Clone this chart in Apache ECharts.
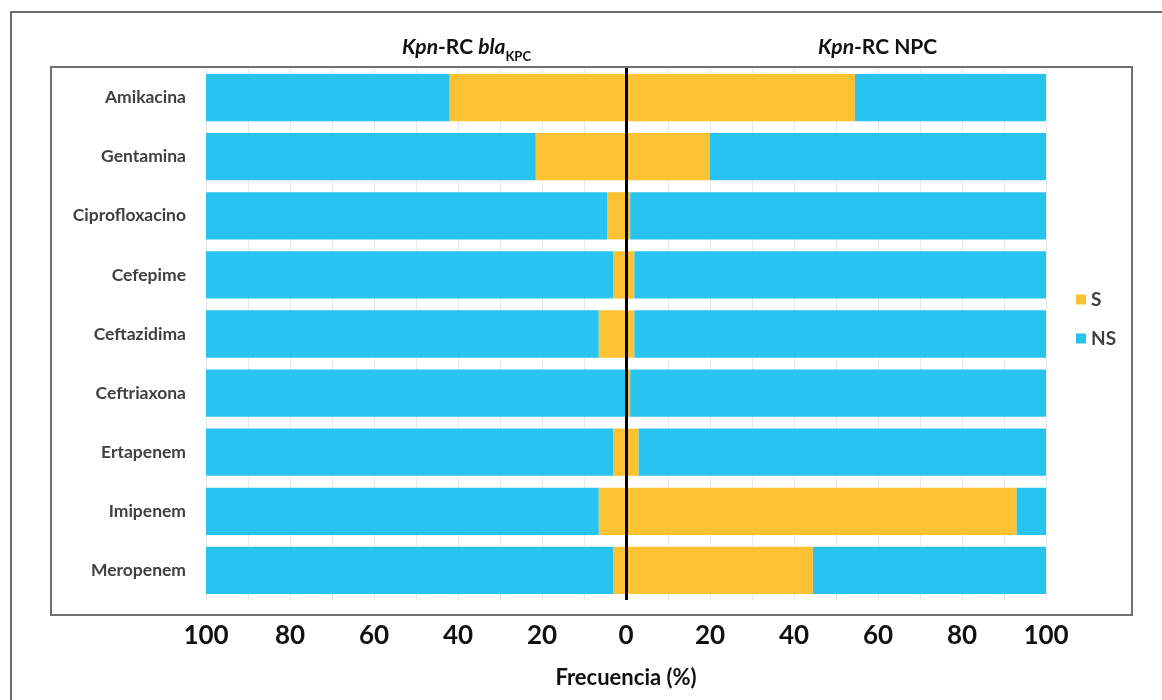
<!DOCTYPE html>
<html>
<head>
<meta charset="utf-8">
<script src="https://cdn.jsdelivr.net/npm/echarts@6/dist/echarts.min.js"></script>
<style>html,body{margin:0;padding:0;background:#fff}#c{width:1162px;height:700px}</style>
</head>
<body>
<div id="c"></div>
<script>
var categories = ['Amikacina','Gentamina','Ciprofloxacino','Cefepime','Ceftazidima','Ceftriaxona','Ertapenem','Imipenem','Meropenem'];
// Kpn-RC blaKPC (left side), % susceptible
var kpcS = [42, 21.5, 4.5, 3, 6.5, 0, 3, 6.5, 3];
// Kpn-RC NPC (right side), % susceptible
var npcS = [54.5, 20, 1, 2, 2, 1, 3, 93, 44.5];
var tickValues = [-100,-80,-60,-40,-20,0,20,40,60,80,100];

var kpcNS = kpcS.map(function(v){return 100 - v;});
var npcNS = npcS.map(function(v){return 100 - v;});
var neg = function(a){return a.map(function(v){return -v;});};

var C_S = '#FDC232', C_NS = '#29C3EF';
var FONT = 'Lato';
var chart = echarts.init(document.getElementById('c'));
chart.setOption({
  animation: false,
  textStyle: {fontFamily: FONT},
  legend: {
    data: ['S','NS'],
    orient: 'vertical',
    left: 1071, top: 285,
    itemWidth: 10, itemHeight: 10, itemGap: 20,
    icon: 'rect',
    textStyle: {fontFamily: FONT, fontWeight: 'bold', fontSize: 19, color: '#404040'}
  },
  grid: {left: 206, right: 116, top: 68, height: 532, containLabel: false},
  xAxis: {
    type: 'value', min: -100, max: 100, interval: 10,
    axisLine: {show: false}, axisTick: {show: false},
    splitLine: {show: true, lineStyle: {color: '#e8e8e8', width: 1}},
    axisLabel: {
      margin: 23, fontFamily: FONT, fontWeight: 'bold', fontSize: 26, color: '#111',
      formatter: function(v){ return (Math.round(v) % 20 === 0) ? String(Math.abs(Math.round(v))) : ''; }
    },
    name: 'Frecuencia (%)', nameLocation: 'middle', nameGap: 67,
    nameTextStyle: {fontFamily: FONT, fontWeight: 'bold', fontSize: 22, color: '#111'}
  },
  yAxis: {
    type: 'category', data: categories, inverse: true,
    axisLine: {show: false}, axisTick: {show: false},
    axisLabel: {margin: 20, fontFamily: FONT, fontWeight: 'bold', fontSize: 17.5, color: '#404040'}
  },
  series: [
    {name: 'S', type: 'bar', stack: 'a', data: neg(kpcS), itemStyle: {color: C_S}, barCategoryGap: '20%'},
    {name: 'NS', type: 'bar', stack: 'a', data: neg(kpcNS), itemStyle: {color: C_NS}},
    {name: 'S', type: 'bar', stack: 'a', data: npcS, itemStyle: {color: C_S}},
    {name: 'NS', type: 'bar', stack: 'a', data: npcNS, itemStyle: {color: C_NS},
     markLine: {silent: true, symbol: 'none', label: {show: false},
       lineStyle: {color: '#000', width: 3, type: 'solid'}, data: [{xAxis: 0}]}}
  ],
  graphic: [
    {type: 'rect', shape: {x: 11, y: 12, width: 1200, height: 750}, style: {fill: 'none', stroke: '#6a6a6a', lineWidth: 2}, silent: true, z: 100},
    {type: 'rect', shape: {x: 51, y: 67, width: 1081, height: 548}, style: {fill: 'none', stroke: '#707070', lineWidth: 2}, silent: true, z: 100},
    {type: 'text', left: 402, top: 37, z: 100,
     style: {
       text: '{i|Kpn}{b|-RC }{i|bla}{s|KPC}',
       rich: {
         i: {fontFamily: FONT, fontWeight: 'bold', fontStyle: 'italic', fontSize: 21, fill: '#111', verticalAlign: 'bottom'},
         b: {fontFamily: FONT, fontWeight: 'bold', fontSize: 21, fill: '#111', verticalAlign: 'bottom'},
         s: {fontFamily: FONT, fontWeight: 'bold', fontSize: 13, fill: '#111', padding: [0,0,-5,0], verticalAlign: 'bottom'}
       }
     }},
    {type: 'text', left: 818, top: 37, z: 100,
     style: {
       text: '{i|Kpn}{b|-RC NPC}',
       rich: {
         i: {fontFamily: FONT, fontWeight: 'bold', fontStyle: 'italic', fontSize: 21, fill: '#111'},
         b: {fontFamily: FONT, fontWeight: 'bold', fontSize: 21, fill: '#111'}
       }
     }}
  ]
});
</script>
</body>
</html>
